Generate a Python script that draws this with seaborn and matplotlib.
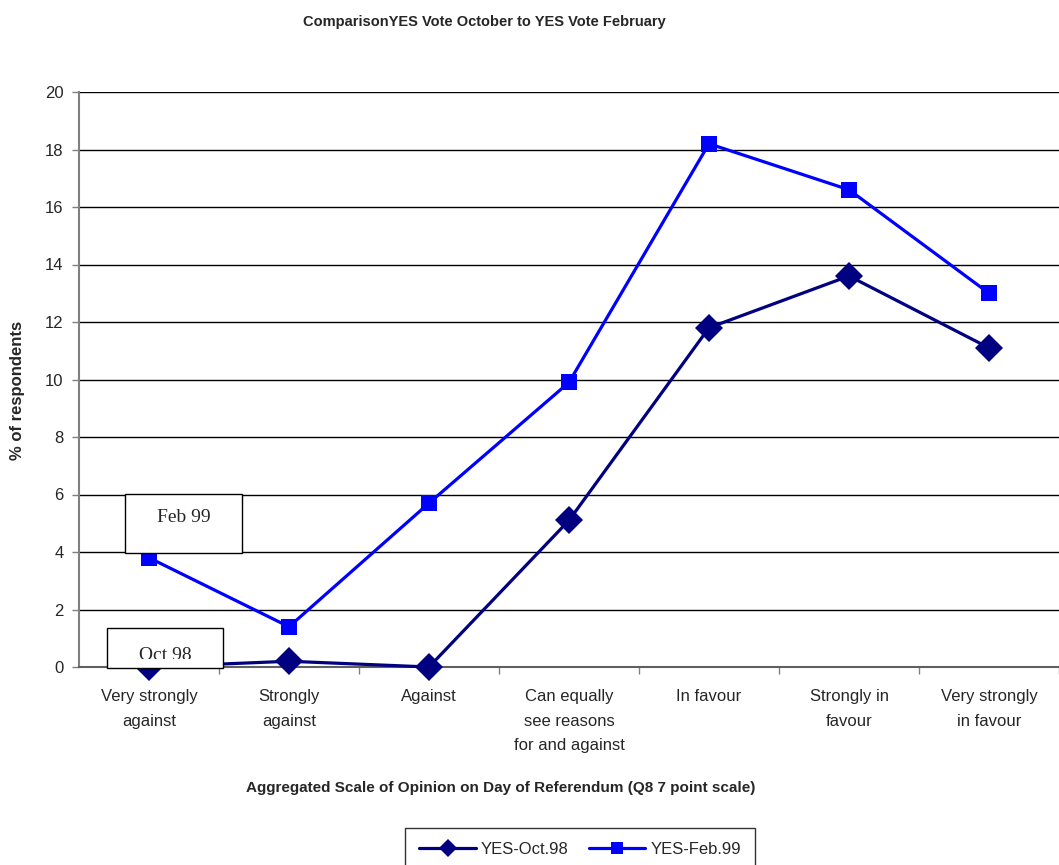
import matplotlib
matplotlib.use("Agg")
import matplotlib.pyplot as plt
import seaborn as sns
import pandas as pd
from matplotlib.patches import Rectangle

categories = ["Very strongly\nagainst", "Strongly\nagainst", "Against",
              "Can equally\nsee reasons\nfor and against", "In favour",
              "Strongly in\nfavour", "Very strongly\nin favour"]
oct98 = [0.0, 0.2, 0.0, 5.1, 11.8, 13.6, 11.1]
feb99 = [3.8, 1.4, 5.7, 9.9, 18.2, 16.6, 13.0]
series_names = ["YES-Oct.98", "YES-Feb.99"]
y_ticks = [0, 2, 4, 6, 8, 10, 12, 14, 16, 18, 20]

sns.set_style("white")
plt.rcParams['font.family'] = ['Liberation Sans', 'DejaVu Sans']

df = pd.DataFrame({
    "pos": list(range(len(categories))) * 2,
    "value": oct98 + feb99,
    "series": [series_names[0]] * len(oct98) + [series_names[1]] * len(feb99),
})

W, H = 1059, 865
fig = plt.figure(figsize=(W / 100, H / 100), dpi=100)
ax = fig.add_axes([79 / W, (H - 667) / H, (W - 79) / W, (667 - 92) / H])

palette = {series_names[0]: "#000080", series_names[1]: "#0000FF"}
sns.lineplot(data=df[df.series == series_names[0]], x="pos", y="value", color=palette[series_names[0]],
             marker="D", linewidth=2.3, markersize=14, markeredgewidth=0,
             ax=ax, legend=False, clip_on=False, zorder=5)
sns.lineplot(data=df[df.series == series_names[1]], x="pos", y="value", color=palette[series_names[1]],
             marker="s", linewidth=2.3, markersize=12, markeredgewidth=0,
             ax=ax, legend=False, clip_on=False, zorder=5)

ax.set_xlim(-0.5, -0.5 + (W - 79) / 141.0)
ax.set_ylim(0, 20)
ax.set_yticks(y_ticks)
ax.set_yticklabels([str(t) for t in y_ticks], fontsize=12)
ax.set_xticks(range(len(categories)))
ax.set_xticklabels(categories, fontsize=12, linespacing=1.8, va="top")
ax.tick_params(axis="x", length=0, pad=16)
ax.tick_params(axis="y", length=5, width=1, color="#808080", direction="out", pad=6, left=True)
for yv in y_ticks[1:]:
    ax.axhline(yv, color="black", linewidth=1.0, zorder=1)
ax.set_xticks([i + 0.5 for i in range(len(categories))], minor=True)
ax.tick_params(axis="x", which="minor", length=5, width=1, color="#808080", direction="out", bottom=True)

for s in ["top", "right"]:
    ax.spines[s].set_visible(False)
ax.spines["left"].set_color("#808080")
ax.spines["left"].set_linewidth(1.5)
ax.spines["bottom"].set_color("#606060")
ax.spines["bottom"].set_linewidth(1.5)
ax.set_xlabel("")
ax.set_ylabel("")

fig.text(484 / W, 1 - 22 / H, "ComparisonYES Vote October to YES Vote February",
         ha="center", va="center", fontsize=10.5, fontweight="bold")
fig.text(501 / W, 1 - 788 / H,
         "Aggregated Scale of Opinion on Day of Referendum (Q8 7 point scale)",
         ha="center", va="center", fontsize=11, fontweight="bold")
fig.text(18 / W, 1 - 390 / H, "% of respondents", rotation=90,
         ha="center", va="center", fontsize=12, fontweight="bold")

def label_box(x0, y0, x1, y1, text, ty, clip_bottom):
    r = Rectangle((x0 / W, 1 - y1 / H), (x1 - x0) / W, (y1 - y0) / H,
                  transform=fig.transFigure, facecolor="white",
                  edgecolor="black", linewidth=1.0, zorder=10)
    fig.patches.append(r)
    t = fig.text((x0 + x1) / 2 / W, 1 - ty / H, text, ha="center", va="center",
                 fontsize=14, family="Liberation Serif", zorder=11)
    t.set_clip_path(Rectangle((x0 / W, 1 - clip_bottom / H), (x1 - x0) / W,
                              (clip_bottom - y0) / H, transform=fig.transFigure))

label_box(125, 494, 242, 553, "Feb 99", 518, 553)
label_box(107, 628, 223, 668, "Oct 98", 656, 659)

handles = [plt.Line2D([], [], color="#000080", marker="D", linewidth=2.3,
                      markersize=9, markeredgewidth=0),
           plt.Line2D([], [], color="#0000FF", marker="s", linewidth=2.3,
                      markersize=8, markeredgewidth=0)]
leg = fig.legend(handles, series_names, loc="upper left",
                 bbox_to_anchor=(405 / W, 1 - 828 / H), ncol=2, fontsize=12,
                 frameon=True, fancybox=False, edgecolor="black",
                 handlelength=3.4, columnspacing=1.2, borderpad=0.85,
                 handletextpad=0.3, borderaxespad=0)
leg.get_frame().set_linewidth(1.0)

fig.savefig("out.png", dpi=100)
